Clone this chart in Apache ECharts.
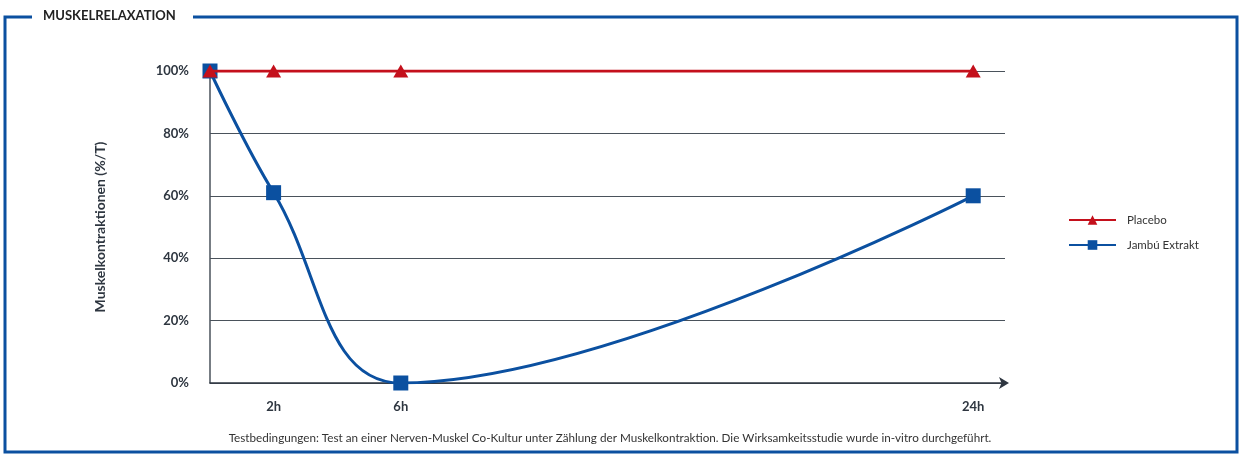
<!DOCTYPE html>
<html>
<head>
<meta charset="utf-8">
<script src="https://cdn.jsdelivr.net/npm/echarts@6/dist/echarts.min.js"></script>
<style>
html,body{margin:0;padding:0;background:#fff;}
#chart{width:1240px;height:458px;}
</style>
</head>
<body>
<div id="chart"></div>
<script>
var title = 'MUSKELRELAXATION';
var yAxisName = 'Muskelkontraktionen (%/T)';
var footnote = 'Testbedingungen: Test an einer Nerven-Muskel Co-Kultur unter Zählung der Muskelkontraktion. Die Wirksamkeitsstudie wurde in-vitro durchgeführt.';
var hours = [0, 2, 6, 24];
var xTickValues = [2, 6, 24];
var seriesNames = ['Placebo', 'Jambú Extrakt'];
var placebo = [100, 100, 100, 100];
var jambu = [100, 61, 0, 60];

var FONT = 'Lato, "Open Sans", sans-serif';
var BLUE = '#0b50a0';
var RED = '#c4101c';
var DARK = '#2e3640';

var chart = echarts.init(document.getElementById('chart'));
chart.setOption({
  animation: false,
  backgroundColor: '#fff',
  grid: {left: 210, right: 235, top: 71, bottom: 75},
  legend: {
    orient: 'vertical', left: 1063, top: 209, itemGap: 13,
    itemWidth: 47, itemHeight: 12,
    textStyle: {fontFamily: FONT, fontSize: 11.5, color: '#333', padding: [0, 0, 0, 6]},
    data: seriesNames
  },
  xAxis: {
    type: 'value', min: 0, max: 25,
    axisLine: {show: true, symbol: ['none', 'arrow'], symbolSize: [9, 10], symbolOffset: [0, 4],
      lineStyle: {color: DARK, width: 1.5}},
    axisTick: {show: false},
    splitLine: {show: false},
    axisLabel: {customValues: xTickValues, formatter: '{value}h', margin: 17,
      fontFamily: FONT, fontWeight: 'bold', fontSize: 13, color: DARK}
  },
  yAxis: {
    type: 'value', min: 0, max: 100, interval: 20,
    name: yAxisName, nameLocation: 'middle', nameGap: 103, nameRotate: 90,
    nameTextStyle: {fontFamily: FONT, fontWeight: 'bold', fontSize: 14, color: DARK},
    axisLine: {show: true, lineStyle: {color: '#4a525b', width: 1.5}},
    axisTick: {show: false},
    splitLine: {show: true, lineStyle: {color: '#4a525b', width: 1.2}},
    axisLabel: {formatter: '{value}%', margin: 21,
      fontFamily: FONT, fontWeight: 'bold', fontSize: 13, color: DARK}
  },
  series: [
    {
      name: seriesNames[1], type: 'line', z: 2,
      data: hours.map(function (h, i) { return [h, jambu[i]]; }),
      smooth: 0.4,
      symbol: 'rect', symbolSize: 15,
      lineStyle: {color: BLUE, width: 3},
      itemStyle: {color: BLUE}
    },
    {
      name: seriesNames[0], type: 'line', z: 3,
      data: hours.map(function (h, i) { return [h, placebo[i]]; }),
      symbol: 'triangle', symbolSize: [15, 13],
      lineStyle: {color: RED, width: 3},
      itemStyle: {color: RED}
    }
  ],
  graphic: [
    {type: 'polyline', shape: {points: [[32, 17], [5, 17], [5, 452], [1237, 452], [1237, 17], [193, 17]]},
     style: {stroke: BLUE, lineWidth: 3, fill: null}},
    {type: 'text', left: 43, top: 9, style: {text: title, font: 'bold 13px ' + FONT, fill: '#222'}},
    {type: 'text', x: 610, y: 438, style: {text: footnote, font: '11.7px ' + FONT, fill: '#333', align: 'center', verticalAlign: 'middle'}}
  ]
});
</script>
</body>
</html>
